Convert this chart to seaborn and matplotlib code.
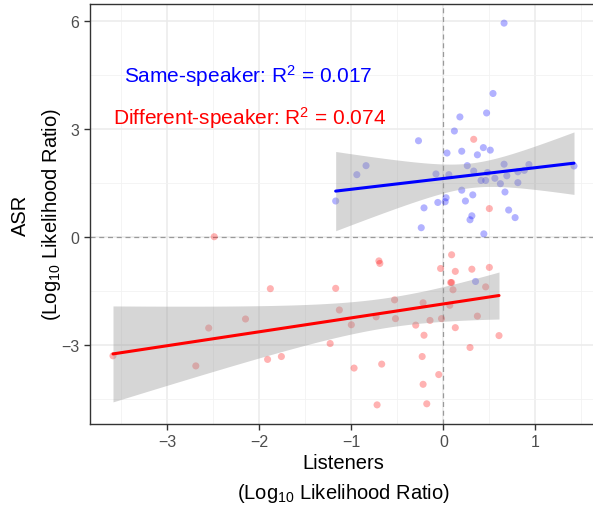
import numpy as np
import pandas as pd
import matplotlib
matplotlib.use("Agg")
import matplotlib.pyplot as plt
import seaborn as sns

same_x = [-1.17, -0.94, -0.84, -0.27, -0.24, -0.21, -0.08, -0.06, 0.02, 0.03, 0.04, 0.06,
          0.12, 0.18, 0.20, 0.20, 0.24, 0.26, 0.29, 0.31, 0.32, 0.33, 0.35, 0.37, 0.41,
          0.435, 0.44, 0.46, 0.47, 0.48, 0.51, 0.54, 0.56, 0.62, 0.66, 0.66, 0.67, 0.69,
          0.71, 0.78, 0.81, 0.81, 0.88, 0.93, 1.42]
same_y = [1.00, 1.73, 1.98, 2.67, 0.26, 0.81, 1.75, 0.96, 0.98, 1.09, 2.33, 1.73,
          2.94, 3.33, 2.38, 1.30, 1.00, 1.98, 0.48, 0.59, 1.17, 1.83, -1.23, 2.28, 1.57,
          2.48, 0.09, 1.57, 3.44, 1.79, 2.41, 3.98, 1.63, 1.48, 5.93, 2.02, 1.25, 1.70,
          0.75, 0.54, 1.81, 1.51, 1.85, 2.01, 1.97]

diff_x = [-3.59, -2.69, -2.55, -2.49, -2.15, -1.91, -1.88, -1.76, -1.23, -1.17, -1.13, -1.00,
          -0.97, -0.73, -0.72, -0.70, -0.69, -0.67, -0.53, -0.52, -0.30, -0.23, -0.22, -0.22,
          -0.21, -0.18, -0.145, -0.05, -0.03, -0.02, 0.07, 0.08, 0.09, 0.09, 0.105, 0.13,
          0.13, 0.29, 0.31, 0.33, 0.37, 0.46, 0.50, 0.50, 0.605]
diff_y = [-3.29, -3.57, -2.52, 0.01, -2.27, -3.39, -1.43, -3.31, -2.95, -1.42, -2.02, -2.43,
          -3.63, -2.21, -4.65, -0.66, -0.73, -3.52, -1.74, -2.26, -2.44, -3.31, -1.82, -4.08,
          -2.72, -4.62, -2.31, -3.81, -0.87, -2.26, -1.89, -1.26, -1.26, -0.49, -1.46, -0.95,
          -2.51, -3.06, -0.89, 2.71, -2.19, -1.38, -0.84, 0.79, -2.73]

label_same = "Same-speaker: R$^2$ = 0.017"
label_diff = "Different-speaker: R$^2$ = 0.074"
x_ticks = [-3, -2, -1, 0, 1]
y_ticks = [-3, 0, 3, 6]

sns.set_theme(style="white")
plt.rcParams['font.family'] = ['Liberation Sans', 'DejaVu Sans']
plt.rcParams['mathtext.fontset'] = 'custom'
plt.rcParams['mathtext.rm'] = 'Liberation Sans'
plt.rcParams['mathtext.it'] = 'Liberation Sans:italic'

df = pd.concat([
    pd.DataFrame({"x": same_x, "y": same_y, "group": "same"}),
    pd.DataFrame({"x": diff_x, "y": diff_y, "group": "diff"}),
])

fig = plt.figure(figsize=(5.93, 5.06), dpi=100)
ax = fig.add_axes([90 / 593, 81 / 506, (597 - 90) / 593, (425 - 5) / 506])

ax.set_xlim(-3.84, 1.67)
ax.set_ylim(-5.18, 6.46)

ax.set_xticks(x_ticks)
ax.set_yticks(y_ticks)
ax.set_xticks(np.arange(-3.5, 1.6, 1.0), minor=True)
ax.set_yticks([-4.5, -1.5, 1.5, 4.5], minor=True)
ax.grid(True, which='major', color='#EBEBEB', linewidth=1.1, zorder=0)
ax.grid(True, which='minor', color='#F2F2F2', linewidth=0.6, zorder=0)
ax.set_axisbelow(True)

ax.axvline(0, color='#9A9A9A', linestyle=(0, (4, 3)), linewidth=0.9, zorder=1)
ax.axhline(0, color='#9A9A9A', linestyle=(0, (4, 3)), linewidth=0.9, zorder=1)


def t975(dof):
    try:
        from scipy import stats
        return float(stats.t.ppf(0.975, dof))
    except Exception:
        return 1.96 + 2.4 / dof


colors = {"same": "#0000FF", "diff": "#FF0000"}
for g in ["same", "diff"]:
    sub = df[df.group == g]
    sns.scatterplot(data=sub, x="x", y="y", color=colors[g], alpha=0.3, s=26,
                    edgecolor='none', ax=ax, zorder=2, legend=False)

for g in ["diff", "same"]:
    sub = df[df.group == g]
    x = sub.x.to_numpy()
    y = sub.y.to_numpy()
    n = len(x)
    slope, icpt = np.polyfit(x, y, 1)
    resid = y - (slope * x + icpt)
    s = np.sqrt(np.sum(resid ** 2) / (n - 2))
    grid = np.linspace(x.min(), x.max(), 100)
    se = s * np.sqrt(1 / n + (grid - x.mean()) ** 2 / np.sum((x - x.mean()) ** 2))
    fit = slope * grid + icpt
    tq = t975(n - 2)
    ax.fill_between(grid, fit - tq * se, fit + tq * se, color='#999999', alpha=0.4,
                    linewidth=0, zorder=3)
    sns.regplot(data=sub, x="x", y="y", scatter=False, ci=None, color=colors[g], ax=ax,
                line_kws={"linewidth": 2.2, "zorder": 4}, truncate=True)

ax.text(-2.12, 4.5, label_same, color='#0000FF', fontsize=15, ha='center', va='center')
ax.text(-2.11, 3.34, label_diff, color='#FF0000', fontsize=15, ha='center', va='center')

ax.set_xlabel("Listeners\n(Log$_{10}$ Likelihood Ratio)", fontsize=14.5, color='black',
              linespacing=1.55)
ax.xaxis.set_label_coords((343 - 90) / 507, (425 - 454) / 420)
ax.set_ylabel("ASR\n(Log$_{10}$ Likelihood Ratio)", fontsize=14.5, color='black',
              linespacing=1.6, labelpad=-1)

ax.tick_params(axis='both', which='major', labelsize=11.5, labelcolor='#4D4D4D',
               color='#333333', length=4, width=1, direction='out', bottom=True, left=True)
ax.tick_params(axis='both', which='minor', length=0)
for sp in ax.spines.values():
    sp.set_color('#333333')
    sp.set_linewidth(1.0)
    sp.set_visible(True)

fig.savefig("out.png", dpi=100)
